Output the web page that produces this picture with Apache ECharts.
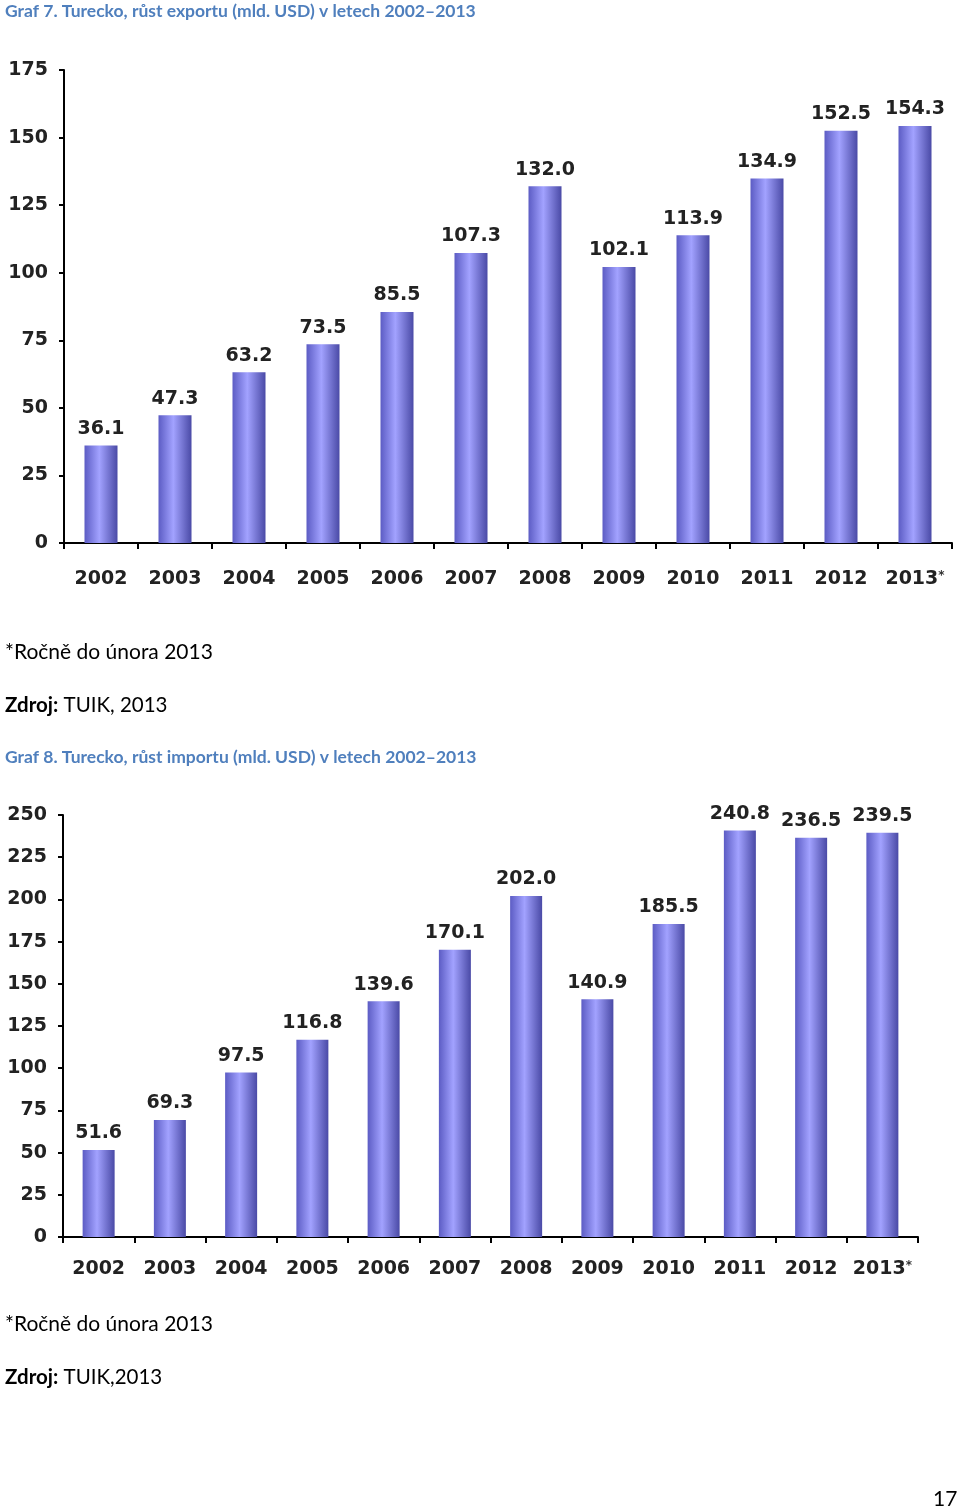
<!DOCTYPE html>
<html>
<head>
<meta charset="utf-8">
<script src="https://cdn.jsdelivr.net/npm/echarts@6/dist/echarts.min.js"></script>
<style>
html,body{margin:0;padding:0;background:#fff;}
#c{width:960px;height:1512px;}
</style>
</head>
<body>
<div id="c"></div>
<script>
const years = ['2002','2003','2004','2005','2006','2007','2008','2009','2010','2011','2012','2013*'];
const exportValues = [36.1,47.3,63.2,73.5,85.5,107.3,132.0,102.1,113.9,134.9,152.5,154.3];
const importValues = [51.6,69.3,97.5,116.8,139.6,170.1,202.0,140.9,185.5,240.8,236.5,239.5];
const title1 = 'Graf 7. Turecko, růst exportu (mld. USD) v letech 2002–2013';
const title2 = 'Graf 8. Turecko, růst importu (mld. USD) v letech 2002–2013';
const note = '*Ročně do února 2013';

const chart = echarts.init(document.getElementById('c'), null, {renderer:'canvas'});
const barColor = {
  type:'linear', x:0, y:0, x2:1, y2:0,
  colorStops:[
    {offset:0, color:'#5c5cc4'},
    {offset:0.45, color:'#a2a2ff'},
    {offset:1, color:'#4a4aa6'}
  ]
};
const lblFont = {fontFamily:'DejaVu Sans', fontWeight:'bold', fontSize:19, color:'#222'};
const axisLine = {lineStyle:{color:'#000', width:2}};

function xAxis(gi, margin){
  return {type:'category', gridIndex:gi, data:years,
    axisLine:axisLine,
    axisTick:{show:true, length:6, lineStyle:{color:'#000', width:2}, alignWithLabel:false},
    axisLabel:Object.assign({margin:margin, interval:0,
      formatter:v=>v.endsWith('*') ? v.slice(0,-1)+'{s|*}' : v,
      rich:{s:{fontFamily:'DejaVu Sans', fontSize:12, fontWeight:'bold', color:'#333', verticalAlign:'top', padding:[0,0,6,0]}}
    }, lblFont)};
}
function yAxis(gi, max){
  return {type:'value', gridIndex:gi, min:0, max:max, interval:25,
    axisLine:Object.assign({show:true}, axisLine),
    axisTick:{show:true, length:5, lineStyle:{color:'#000', width:2}},
    splitLine:{show:false},
    axisLabel:Object.assign({margin:16}, lblFont)};
}
function bar(gi, data, w){
  return {type:'bar', xAxisIndex:gi, yAxisIndex:gi, data:data, barWidth:w,
    itemStyle:{color:barColor},
    label:Object.assign({show:true, position:'top', distance:7,
      formatter:p=>p.value.toFixed(1)}, lblFont, {fontSize:19}),
    animation:false};
}
const noteFont = 'Lato';
chart.setOption({
  animation:false,
  backgroundColor:'#fff',
  grid:[
    {left:64, top:70, width:888, height:473},
    {left:63, top:815, width:855, height:422}
  ],
  xAxis:[xAxis(0,27), xAxis(1,23)],
  yAxis:[yAxis(0,175), yAxis(1,250)],
  series:[bar(0, exportValues, 33), bar(1, importValues, 32)],
  graphic:[
    {type:'text', left:5, top:2, style:{text:title1, fill:'#4f7fbd', font:'bold 17.5px Lato'}},
    {type:'text', left:5, top:642, style:{text:note, fill:'#000', font:'21px '+noteFont}},
    {type:'text', left:5, top:695, style:{text:'{b|Zdroj:} TUIK, 2013', fill:'#000', font:'20.5px '+noteFont,
      rich:{b:{fontWeight:'bold', fontSize:20.5, fontFamily:noteFont}}}},
    {type:'text', left:5, top:748, style:{text:title2, fill:'#4f7fbd', font:'bold 17.5px Lato'}},
    {type:'text', left:5, top:1314, style:{text:note, fill:'#000', font:'21px '+noteFont}},
    {type:'text', left:5, top:1367, style:{text:'{b|Zdroj:} TUIK,2013', fill:'#000', font:'20.5px '+noteFont,
      rich:{b:{fontWeight:'bold', fontSize:20.5, fontFamily:noteFont}}}},
    {type:'text', left:933, top:1489, style:{text:'17', fill:'#000', font:'21px '+noteFont}}
  ]
});
</script>
</body>
</html>
